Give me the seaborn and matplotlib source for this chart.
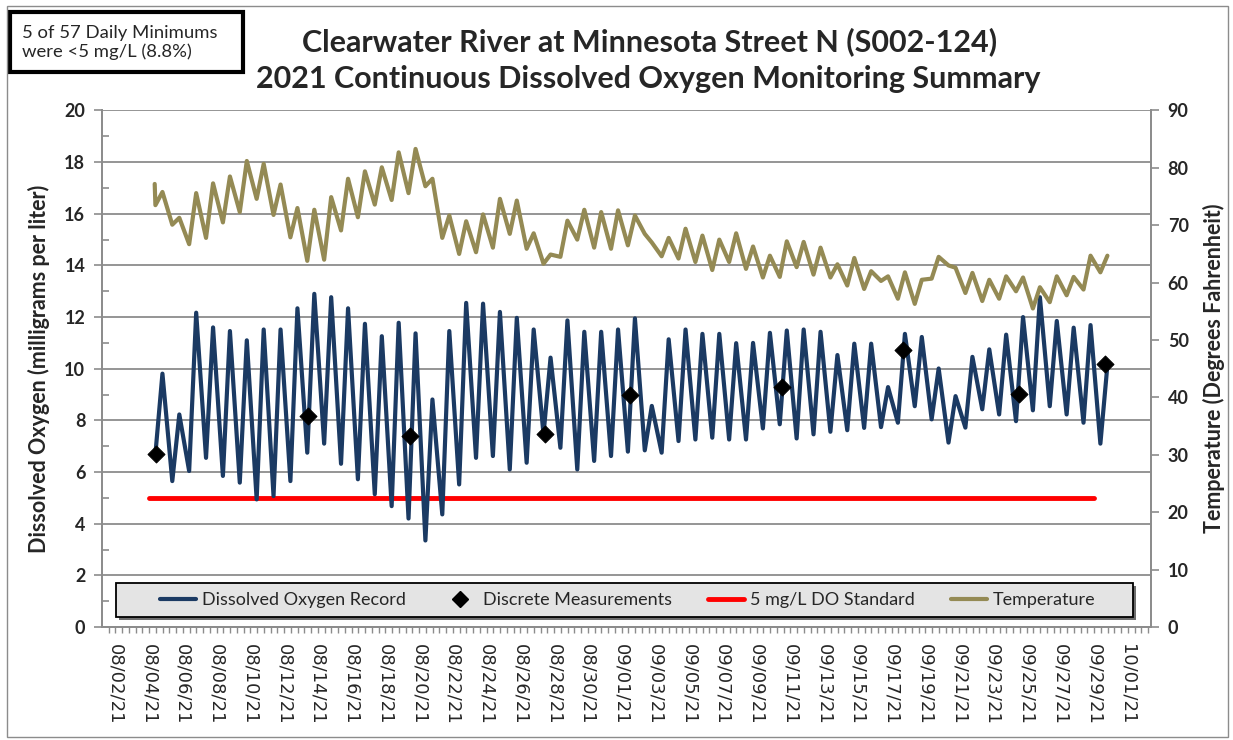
import numpy as np
import pandas as pd
import matplotlib
matplotlib.use("Agg")
import matplotlib.pyplot as plt
import matplotlib.dates as mdates
from matplotlib.ticker import MultipleLocator, AutoMinorLocator, FixedLocator, NullLocator
from matplotlib.lines import Line2D
from matplotlib.patches import Rectangle
import seaborn as sns

# one value per day, 08/04 - 09/29 (morning low, evening high)
days = pd.date_range("2021-08-04", "2021-09-29", freq="D")

do_min = [6.7, 5.65, 6.04, 6.55, 5.85, 5.59, 4.94, 5.07, 5.65, 6.75, 7.1, 6.32, 5.72, 5.14,
          4.68, 4.2, 3.35, 4.36, 5.52, 6.55, 6.62, 6.1, 6.36, 7.46, 6.94, 6.1, 6.43, 6.62,
          6.79, 6.84, 6.75, 7.2, 7.26, 7.33, 7.26, 7.26, 7.69, 7.85, 7.3, 7.46, 7.56, 7.62,
          7.71, 7.74, 7.91, 8.55, 8.04, 7.14, 7.72, 8.43, 8.23, 7.97, 8.39, 8.55, 8.23, 7.91, 7.1]
do_max = [9.81, 8.23, 12.17, 11.6, 11.46, 11.1, 11.52, 11.52, 12.34, 12.9, 12.77, 12.34, 11.74, 11.26,
          11.78, 11.37, 8.81, 11.46, 12.55, 12.52, 12.2, 11.97, 11.52, 10.43, 11.87, 11.43, 11.43, 11.52,
          11.95, 8.56, 11.14, 11.52, 11.35, 11.35, 10.99, 11.0, 11.39, 11.48, 11.52, 11.43, 10.53, 10.97,
          10.97, 9.29, 11.35, 11.23, 10.01, 8.94, 10.46, 10.75, 11.32, 12.0, 12.77, 11.85, 11.59, 11.69, 10.14]

temp_start = 77.2
temp_min = [73.5, 70.1, 66.7, 67.8, 70.5, 72.3, 74.6, 71.8, 67.9, 63.8, 64.0, 69.1, 71.4, 73.6,
            74.4, 75.6, 76.8, 67.8, 65.0, 65.3, 66.1, 68.5, 65.9, 63.3, 64.5, 67.5, 66.1, 65.9,
            66.5, 68.5, 64.6, 64.2, 63.6, 62.2, 63.6, 62.4, 60.9, 61.0, 62.7, 61.4, 60.9, 59.5,
            58.9, 60.3, 57.2, 56.3, 60.7, 63.0, 58.2, 56.8, 57.2, 58.5, 55.5, 56.6, 57.8, 58.8, 61.8]
temp_max = [75.8, 71.3, 75.6, 77.3, 78.5, 81.2, 80.7, 77.1, 73.0, 72.7, 74.9, 78.1, 79.4, 80.1,
            82.7, 83.3, 78.1, 71.7, 70.7, 71.9, 74.6, 74.3, 68.6, 64.9, 70.8, 72.7, 72.3, 72.6,
            71.7, 67.0, 67.8, 69.4, 68.2, 67.5, 68.6, 66.3, 64.7, 67.2, 67.1, 66.1, 63.2, 64.3,
            62.0, 61.1, 61.8, 60.5, 64.5, 62.6, 61.7, 60.5, 61.1, 60.9, 59.2, 61.1, 61.0, 64.7, 64.7]

disc_times = ["2021-08-04 10:00", "2021-08-13 10:00", "2021-08-19 11:00", "2021-08-27 11:00",
              "2021-09-01 12:00", "2021-09-10 11:30", "2021-09-17 16:30", "2021-09-24 13:00",
              "2021-09-29 15:00"]
disc_do = [6.68, 8.17, 7.39, 7.46, 8.98, 9.29, 10.74, 9.01, 10.17]

std_dates = ["2021-08-04", "2021-09-29"]
std_do = [5, 5]


def daily_series(lo, hi):
    df = pd.concat([pd.DataFrame({"time": days + pd.Timedelta(hours=9), "value": lo}),
                    pd.DataFrame({"time": days + pd.Timedelta(hours=19), "value": hi})])
    return df.sort_values("time").reset_index(drop=True)


do_df = daily_series(do_min, do_max)
temp_df = daily_series(temp_min, temp_max)
temp_df = pd.concat([pd.DataFrame({"time": [days[0] + pd.Timedelta(hours=8)], "value": [temp_start]}),
                     temp_df]).reset_index(drop=True)
disc_df = pd.DataFrame({"time": pd.to_datetime(disc_times), "value": disc_do})
std_df = pd.DataFrame({"time": pd.to_datetime(std_dates), "value": std_do})

sns.set_theme(style="white")
plt.rcParams["font.family"] = ["Lato", "DejaVu Sans"]

DO_COL = "#1B3A63"
TEMP_COL = "#948A54"
GRID_COL = "#8C8C8C"

fig = plt.figure(figsize=(12.33, 7.40), dpi=100)
ax = fig.add_axes([0.0827, 0.1527, 0.8508, 0.698])
ax2 = ax.twinx()

sns.lineplot(data=std_df, x="time", y="value", ax=ax, color="#FF0000", lw=3.5, zorder=3)
sns.lineplot(data=do_df, x="time", y="value", ax=ax, color=DO_COL, lw=3, sort=False,
             estimator=None, zorder=4)
sns.scatterplot(data=disc_df, x="time", y="value", ax=ax, marker="D", s=75, color="black",
                edgecolor="black", zorder=5)
sns.lineplot(data=temp_df, x="time", y="value", ax=ax2, color=TEMP_COL, lw=3, sort=False,
             estimator=None)

x_lo, x_hi = pd.Timestamp("2021-08-01 05:00"), pd.Timestamp("2021-10-02 09:00")
ax.set_ylim(0, 20)
ax2.set_ylim(0, 90)
ax.set_xlim(x_lo, x_hi)

ax.yaxis.set_major_locator(MultipleLocator(2))
ax.yaxis.set_minor_locator(AutoMinorLocator(2))
ax2.yaxis.set_major_locator(MultipleLocator(10))
ax2.yaxis.set_minor_locator(NullLocator())

ticks = mdates.date2num(pd.date_range("2021-08-02", "2021-10-01", freq="2D"))
minor_ticks = np.arange(ticks[0] - 2.0, mdates.date2num(x_hi), 0.4)
minor_ticks = minor_ticks[minor_ticks >= mdates.date2num(x_lo)]
ax.xaxis.set_major_locator(FixedLocator(ticks))
ax.xaxis.set_minor_locator(FixedLocator(minor_ticks))
ax.xaxis.set_major_formatter(mdates.DateFormatter("%m/%d/%y"))
ax2.tick_params(axis="x", which="both", bottom=False, top=False, labelbottom=False)

ax.grid(axis="y", color=GRID_COL, lw=1.3)
ax.set_axisbelow(True)
for a in (ax, ax2):
    a.spines["top"].set_visible(False)
    for s in ("left", "right", "bottom"):
        a.spines[s].set_color(GRID_COL)
        a.spines[s].set_linewidth(1.3)

ax.tick_params(axis="y", which="major", direction="out", length=6, width=1.2, color=GRID_COL,
               labelsize=13, pad=6, left=True)
ax.tick_params(axis="y", which="minor", direction="in", length=5, width=1.2, color=GRID_COL, left=True)
ax.tick_params(axis="x", which="both", direction="out", length=4, width=1.0, color=GRID_COL,
               bottom=True)
ax.tick_params(axis="x", which="major", labelsize=13, pad=8, labelrotation=-90)
ax2.tick_params(axis="y", which="major", direction="out", length=6, width=1.2, color=GRID_COL,
                labelsize=13, pad=6, right=True)
for lab in ax.get_yticklabels() + ax2.get_yticklabels():
    lab.set_fontweight("bold")
for lab in ax.get_xticklabels():
    lab.set_family("DejaVu Sans")
    lab.set_rotation(-90)
    lab.set_ha("center")

ax.set_xlabel("")
ax2.set_xlabel("")
ax.set_ylabel("Dissolved Oxygen (milligrams per liter)", fontsize=15.5, fontweight="bold", labelpad=10)
ax2.set_ylabel("Temperature (Degrees Fahrenheit)", fontsize=15.5, fontweight="bold", labelpad=10,
               rotation=90)

# legend box with a drop shadow, entries centred inside it
box = (0.0133, 0.0193, 0.9695, 0.0658)
ax2.add_patch(Rectangle((box[0] + 0.0028, box[1] - 0.006), box[2], box[3], transform=ax2.transAxes,
                        facecolor="#6E6E6E", edgecolor="none", zorder=6, clip_on=False))
ax2.add_patch(Rectangle(box[:2], box[2], box[3], transform=ax2.transAxes,
                        facecolor="#E4E4E4", edgecolor="black", lw=1.3, zorder=7, clip_on=False))
handles = [Line2D([], [], color=DO_COL, lw=3),
           Line2D([], [], color="black", marker="D", ls="none", markersize=8),
           Line2D([], [], color="#FF0000", lw=3.5),
           Line2D([], [], color=TEMP_COL, lw=3)]
labels = ["Dissolved Oxygen Record", "Discrete Measurements", "5 mg/L DO Standard", "Temperature"]
leg = ax2.legend(handles, labels, loc="center", bbox_to_anchor=(0.501, 0.0522), ncol=4,
                 fontsize=13, frameon=False, handlelength=2.0, handletextpad=0.3,
                 columnspacing=2.0, borderaxespad=0)
leg.set_zorder(8)

fig.text(0.527, 0.943, "Clearwater River at Minnesota Street N (S002-124)", ha="center", va="center",
         fontsize=22, fontweight="bold")
fig.text(0.5255, 0.893, "2021 Continuous Dissolved Oxygen Monitoring Summary", ha="center", va="center",
         fontsize=22, fontweight="bold")

fig.patches.append(Rectangle((0.0081, 0.9027), 0.189, 0.081, transform=fig.transFigure,
                             facecolor="white", edgecolor="black", lw=3))
fig.text(0.018, 0.943, "5 of 57 Daily Minimums\nwere <5 mg/L (8.8%)", ha="left", va="center",
         fontsize=13.3, linespacing=1.2)
fig.patches.append(Rectangle((0.006, 0.004), 0.99, 0.988, transform=fig.transFigure,
                             facecolor="none", edgecolor="#8C8C8C", lw=1))

fig.savefig("out.png", dpi=100)
